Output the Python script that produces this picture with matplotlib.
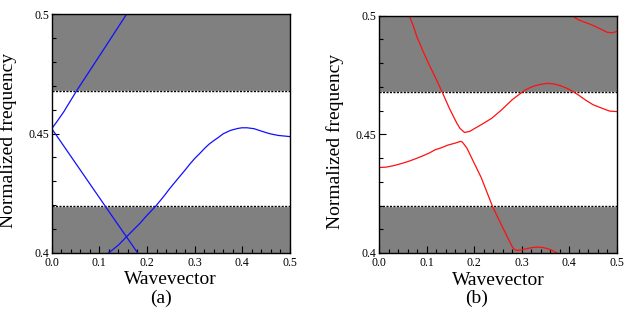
import matplotlib
matplotlib.use("Agg")
import matplotlib.pyplot as plt
from matplotlib.ticker import MultipleLocator

plt.rcParams["font.family"] = ["Liberation Serif", "DejaVu Serif"]

# Band gap edges (normalized frequency)
GAP_LOW = 0.4197
GAP_HIGH = 0.4679

# Panel (a) bands
a1_x = [0.0, 0.01, 0.025, 0.0525, 0.1, 0.157, 0.165]
a1_y = [0.452, 0.4547, 0.459, 0.468, 0.4825, 0.5, 0.5025]
a2_x = [0.0, 0.01, 0.06, 0.12, 0.18, 0.185]
a2_y = [0.452, 0.4492, 0.4347, 0.4173, 0.400, 0.3985]
a3_x = [0.115, 0.12, 0.14, 0.157, 0.17, 0.185, 0.2, 0.219, 0.235, 0.248,
        0.265, 0.28, 0.29, 0.30, 0.311, 0.32, 0.33, 0.34, 0.35, 0.36, 0.375,
        0.39, 0.399, 0.41, 0.425, 0.44, 0.451, 0.46, 0.475, 0.49, 0.5]
a3_y = [0.3993, 0.400, 0.4032, 0.4067, 0.4093, 0.4123, 0.4157, 0.4197,
        0.4236, 0.427, 0.4311, 0.4347, 0.4372, 0.4395, 0.4417, 0.4436,
        0.4455, 0.447, 0.4484, 0.4499, 0.4513, 0.4521, 0.4524, 0.4524,
        0.452, 0.451, 0.4503, 0.4498, 0.4492, 0.4489, 0.4487]

# Panel (b) bands
b1_x = [0.0633, 0.068, 0.072, 0.079, 0.09, 0.1034, 0.118, 0.1338, 0.148,
        0.1633, 0.17, 0.1794, 0.19, 0.202, 0.22, 0.237, 0.258, 0.2794,
        0.295, 0.3075, 0.32, 0.33, 0.343, 0.3554, 0.368, 0.38, 0.393, 0.406,
        0.42, 0.434, 0.45, 0.469, 0.485, 0.5]
b1_y = [0.5, 0.4975, 0.4955, 0.4912, 0.486, 0.48, 0.474, 0.4672, 0.4608,
        0.4547, 0.4525, 0.4508, 0.4512, 0.4526, 0.4547, 0.4568, 0.4604,
        0.4645, 0.4669, 0.4687, 0.4699, 0.4706, 0.4712, 0.4715, 0.4712,
        0.4706, 0.4696, 0.4683, 0.4665, 0.4645, 0.4625, 0.461, 0.4598,
        0.4596]
b2_x = [0.0, 0.015, 0.03, 0.045, 0.0612, 0.075, 0.09, 0.105, 0.1176, 0.13,
        0.145, 0.158, 0.1703, 0.174, 0.177, 0.1845, 0.2, 0.2146, 0.2385,
        0.26, 0.2794, 0.285, 0.29, 0.30, 0.31, 0.322, 0.3356, 0.345, 0.355,
        0.365, 0.3744]
b2_y = [0.436, 0.4362, 0.4368, 0.4376, 0.4386, 0.4396, 0.4408, 0.4421,
        0.4435, 0.4443, 0.4455, 0.4462, 0.447, 0.4469, 0.4462, 0.4442,
        0.4378, 0.4318, 0.4196, 0.4107, 0.4028, 0.4014, 0.4011, 0.4013,
        0.4018, 0.4023, 0.4025, 0.4023, 0.4018, 0.401, 0.400]
b3_x = [0.406, 0.42, 0.448, 0.465, 0.48, 0.49, 0.5]
b3_y = [0.5, 0.4982, 0.4961, 0.4945, 0.493, 0.4928, 0.4933]

fig = plt.figure(figsize=(6.35, 3.17), dpi=100, facecolor="white")
ax_a = fig.add_axes([0.0814, 0.2028, 0.3753, 0.7521])
ax_b = fig.add_axes([0.5973, 0.2019, 0.3739, 0.7486])


def style(ax):
    ax.set_xlim(0, 0.5)
    ax.set_ylim(0.4, 0.5)
    # gray regions outside the gap
    ax.axhspan(GAP_HIGH, 0.5, color="#808080", lw=0, zorder=0)
    ax.axhspan(0.4, GAP_LOW, color="#808080", lw=0, zorder=0)
    for g in (GAP_LOW, GAP_HIGH):
        ax.axhline(g, color="white", lw=1.0, zorder=1)
        ax.axhline(g, color="black", lw=1.0, ls=(0, (1.5, 1.0)), zorder=1.5)
    ax.xaxis.set_major_locator(MultipleLocator(0.1))
    ax.xaxis.set_minor_locator(MultipleLocator(0.02))
    ax.yaxis.set_major_locator(MultipleLocator(0.05))
    ax.yaxis.set_minor_locator(MultipleLocator(0.01))
    ax.xaxis.set_major_formatter(lambda v, _: f"{v:.1f}")
    ax.yaxis.set_major_formatter(lambda v, _: f"{v:g}")
    ax.tick_params(which="both", direction="in", top=False, right=False,
                   labelsize=8.5, width=0.8)
    ax.tick_params(axis="x", which="major", length=5, pad=3)
    ax.tick_params(axis="x", which="minor", length=3)
    ax.tick_params(axis="y", which="major", length=5, pad=2)
    ax.tick_params(axis="y", which="minor", length=3)
    for s in ax.spines.values():
        s.set_linewidth(1.0)
        s.set_zorder(5)
    ax.set_xlabel("Wavevector", fontsize=14)
    ax.set_ylabel("Normalized frequency", fontsize=14)
    ax.xaxis.set_label_coords(0.5, -0.078)
    ax.yaxis.set_label_coords(-0.147, 0.47)


style(ax_a)
style(ax_b)

for xs, ys in [(a1_x, a1_y), (a2_x, a2_y), (a3_x, a3_y)]:
    ax_a.plot(xs, ys, color="#1010ff", lw=0.9, zorder=3)
for xs, ys in [(b1_x, b1_y), (b2_x, b2_y), (b3_x, b3_y)]:
    ax_b.plot(xs, ys, color="#ff1010", lw=0.9, zorder=3)

fig.text(0.2535, 0.06, "(a)", ha="center", va="center", fontsize=14)
fig.text(0.751, 0.06, "(b)", ha="center", va="center", fontsize=14)

fig.savefig("out.png", dpi=100)
